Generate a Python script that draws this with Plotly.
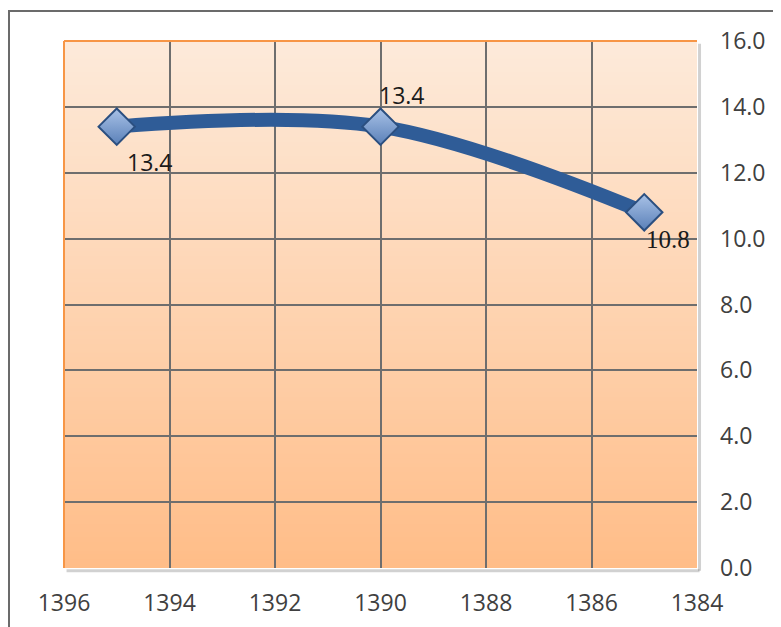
import plotly.graph_objects as go

# data
years = [1395, 1390, 1385]
values = [13.4, 13.4, 10.8]
labels = ["13.4", "13.4", "10.8"]

# axis settings
x_range = [1396, 1384]
y_range = [0, 16]

# page has an 8px body margin, so positions are measured from there
W, H = 781, 627
L, R, T, B = 56, 92, 33, 67

fig = go.Figure()

# gradient plot background built from overlapping thin bands
top_c = (253, 234, 218)
bot_c = (255, 189, 136)
n = 120
step = (y_range[1] - y_range[0]) / n
for i in range(n):
    f = i / (n - 1)
    c = tuple(round(bot_c[k] + (top_c[k] - bot_c[k]) * f) for k in range(3))
    y0 = y_range[0] + step * i
    y1 = min(y_range[1], y0 + step * 2)
    fig.add_shape(type="rect", xref="paper", yref="y", x0=0, x1=1, y0=y0, y1=y1,
                  fillcolor="rgb(%d,%d,%d)" % c, line_width=0, layer="below")

fig.add_trace(go.Scatter(
    x=years, y=values, mode="lines+markers",
    line=dict(color="#2F5C97", width=14, shape="spline", smoothing=1),
    marker=dict(symbol="diamond", size=28, color="#A9C2E7",
                gradient=dict(type="vertical", color="#5A80B8"),
                line=dict(color="#2B4F80", width=2)),
    hoverinfo="x+y", showlegend=False))

# data labels
offsets = [(33, -35, "Open Sans", 23), (21, 32, "Open Sans", 23), (24, -27, "Liberation Serif", 25)]
for xv, yv, t, (dx, dy, fam, sz) in zip(years, values, labels, offsets):
    fig.add_annotation(x=xv, y=yv, text=t, showarrow=False, xshift=dx, yshift=dy,
                       font=dict(family=fam, size=sz, color="#1a1a1a"))

# plot area edges: orange on left/top, soft shadow on right/bottom
fig.add_shape(type="line", xref="paper", yref="paper", x0=0, x1=0, y0=0, y1=1,
              line=dict(color="#F79646", width=2))
fig.add_shape(type="line", xref="paper", yref="paper", x0=0, x1=1, y0=1, y1=1,
              line=dict(color="#F79646", width=2))
fig.add_shape(type="line", xref="paper", yref="paper", x0=0.004, x1=1.004, y0=-0.005, y1=-0.005,
              line=dict(color="rgba(0,0,0,0.18)", width=3), layer="below")
fig.add_shape(type="line", xref="paper", yref="paper", x0=1.004, x1=1.004, y0=-0.005, y1=0.995,
              line=dict(color="rgba(0,0,0,0.18)", width=3), layer="below")

# outer chart border (runs off the right and bottom of the picture)
pw, ph = W - L - R, H - T - B
fig.add_shape(type="rect", xref="paper", yref="paper",
              x0=(1 - L) / pw, x1=(W + 20 - L) / pw,
              y0=-(B + 20) / ph, y1=(ph + T - 3) / ph,
              line=dict(color="#6B6B6B", width=2), fillcolor="rgba(0,0,0,0)")

grid = "#6E6E6E"
tick_font = dict(family="Open Sans", size=23, color="#404040")
fig.update_layout(
    width=W, height=H,
    margin=dict(l=L, r=R, t=T, b=B),
    paper_bgcolor="white", plot_bgcolor="rgba(0,0,0,0)",
    xaxis=dict(range=x_range, dtick=2, tick0=1384, showgrid=True, gridcolor=grid, gridwidth=2,
               zeroline=False, showline=False, ticks="", tickfont=tick_font,
               ticklabelstandoff=19, fixedrange=True),
    yaxis=dict(range=y_range, dtick=2, side="right", tickformat=".1f", showgrid=True,
               gridcolor=grid, gridwidth=2, zeroline=False, showline=False, ticks="",
               tickfont=tick_font, ticklabelstandoff=22, fixedrange=True),
)

fig.write_html("out.html")
